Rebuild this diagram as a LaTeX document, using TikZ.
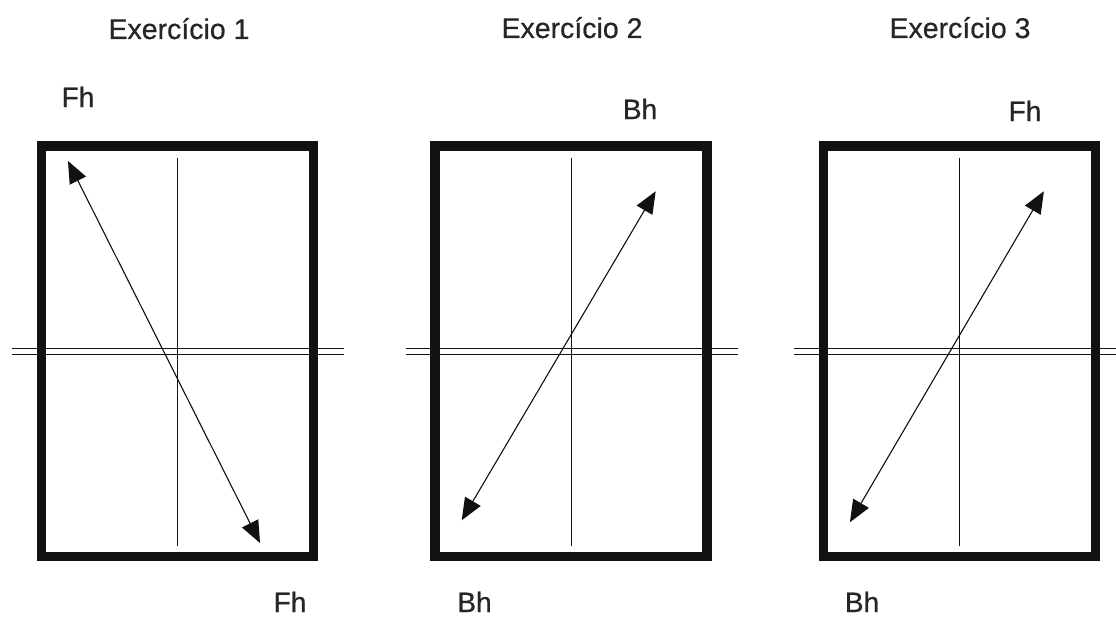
\documentclass[tikz,border=0pt]{standalone}
\usepackage{fontspec}
\setmainfont{Liberation Sans}
\newfontfamily\labfont{Liberation Sans}[FakeBold=0.6]
\usetikzlibrary{arrows.meta,calc}
\definecolor{ink}{HTML}{111111}
\definecolor{txt}{HTML}{262626}
\begin{document}
\begin{tikzpicture}[x=1pt,y=-1pt,
  frame/.style={draw=ink, line width=9.5pt, minimum width=272pt, minimum height=410.5pt, inner sep=0pt, outer sep=0pt},
  axis/.style={draw=ink, line width=1.2pt},
  rail/.style={draw=ink, line width=1.4pt},
  force/.style={draw=ink, line width=1.1pt, {Triangle[length=22pt,width=18pt]}-{Triangle[length=22pt,width=18pt]}},
  title/.style={text=txt, font=\labfont\fontsize{28.5}{34}\selectfont, inner sep=0pt, anchor=base},
  lab/.style={text=txt, font=\labfont\fontsize{28}{32}\selectfont, inner sep=0pt, anchor=base}]
\useasboundingbox[fill=white] (0,0) rectangle (1116,618);

% box centres
\coordinate (c1) at (177.25,351.25);
\coordinate (c2) at (571.2,351.25);
\coordinate (c3) at (959.4,351.25);

% double horizontal lines
\foreach \i in {1,2,3}{
  \draw[rail] ($(c\i)+(-165,-3)$) -- ($(c\i)+(167,-3)$);
  \draw[rail] ($(c\i)+(-165,3)$) -- ($(c\i)+(167,3)$);
}

% frames
\node[frame] (b1) at (c1) {};
\node[frame] (b2) at (c2) {};
\node[frame] (b3) at (c3) {};

% vertical axes
\foreach \i in {1,2,3}{
  \coordinate (v\i t) at ($(b\i.north)+(0,12)$);
  \coordinate (v\i b) at ($(b\i.south)+(0,-11)$);
  \draw[axis] (v\i t) -- (v\i b);
}

% arrows
\coordinate (a1s) at ($(c1)+(-109.25,-190.25)$);
\coordinate (a1e) at ($(c1)+(82.75,191.75)$);
\coordinate (a2s) at ($(c2)+(84.5,-160)$);
\coordinate (a2e) at ($(c2)+(-109.5,169)$);
\coordinate (a3s) at ($(c3)+(84.5,-160)$);
\coordinate (a3e) at ($(c3)+(-109.5,171)$);
\draw[force] (a1s) -- (a1e);
\draw[force] (a2s) -- (a2e);
\draw[force] (a3s) -- (a3e);

% titles
\node[title] (t1) at (179,39) {Exercício 1};
\node[title] (t2) at (572,38) {Exercício 2};
\node[title] (t3) at (960,38) {Exercício 3};

% labels
\node[lab] (l1a) at (78,107) {Fh};
\node[lab] (l1b) at (290,612) {Fh};
\node[lab] (l2a) at (640,119) {Bh};
\node[lab] (l2b) at (474.5,612) {Bh};
\node[lab] (l3a) at (1025,121) {Fh};
\node[lab] (l3b) at (862,612) {Bh};
\end{tikzpicture}
\end{document}
